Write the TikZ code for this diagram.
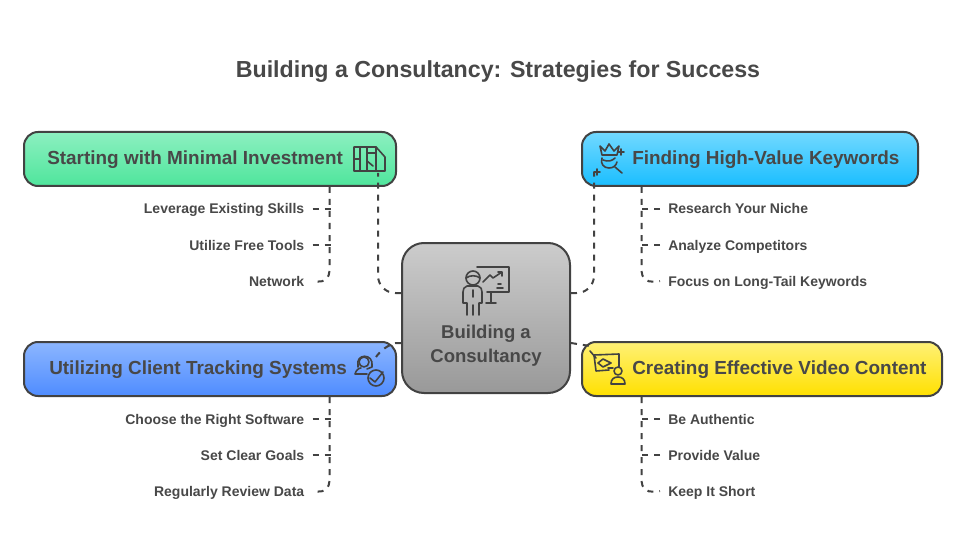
\documentclass[tikz,border=0pt]{standalone}
\usepackage{fontspec}
\setmainfont{Liberation Sans}
\usetikzlibrary{calc}
\definecolor{ink}{HTML}{424242}
\definecolor{txt}{HTML}{484848}
\definecolor{gtop}{HTML}{8CF0C0}
\definecolor{gbot}{HTML}{4FE59C}
\definecolor{btop}{HTML}{72D9FF}
\definecolor{bbot}{HTML}{1ABEFF}
\definecolor{ptop}{HTML}{8CB6FF}
\definecolor{pbot}{HTML}{4F8CFF}
\definecolor{ytop}{HTML}{FFF176}
\definecolor{ybot}{HTML}{FFE000}
\tikzset{
  box/.style={draw=ink,line width=1.5pt,rounded corners=10.5pt,minimum height=40.5pt,inner sep=0pt},
  conn/.style={draw=ink,line width=1.5pt,dash pattern=on 4.5pt off 4.5pt},
  icon/.style={draw=ink,line width=1.2pt,line cap=round,line join=round},
  titletxt/.style={inner sep=0pt,text=txt,text height=16pt,text depth=3.5pt,font=\fontsize{17.4}{22}\selectfont\bfseries},
  boxtxt/.style={inner sep=0pt,text=txt,anchor=west,text height=13pt,text depth=2.8pt,font=\fontsize{14.2}{18}\selectfont\bfseries},
  itemL/.style={inner sep=0pt,text=txt,anchor=east,text height=9.6pt,text depth=2.1pt,font=\fontsize{10.5}{13}\selectfont\bfseries},
  itemR/.style={inner sep=0pt,text=txt,anchor=west,text height=9.6pt,text depth=2.1pt,font=\fontsize{10.5}{13}\selectfont\bfseries},
}
\begin{document}
\begin{tikzpicture}[x=0.75pt,y=-0.75pt]
\useasboundingbox[fill=white] (0,0) rectangle (966,552);
\node[titletxt] (title) at (498,69) {Building a Consultancy: Strategies for Success};

% boxes
\node[box,minimum width=279pt,top color=gtop,bottom color=gbot] (green) at (210,159) {};
\node[box,minimum width=252pt,top color=btop,bottom color=bbot] (blue) at (750,159) {};
\node[box,minimum width=279pt,top color=ptop,bottom color=pbot] (peri) at (210,369) {};
\node[box,minimum width=270pt,top color=ytop,bottom color=ybot] (yel) at (762,369) {};
\node[box,minimum width=126pt,minimum height=112.5pt,rounded corners=16.5pt,top color=black!20,bottom color=black!40] (center) at (486,318) {};

% box labels
\node[boxtxt] (lg) at (47,158) {Starting with Minimal Investment};
\node[boxtxt] (lb) at (632,158) {Finding High-Value Keywords};
\node[boxtxt] (lp) at (49,368) {Utilizing Client Tracking Systems};
\node[boxtxt] (ly) at (632,368) {Creating Effective Video Content};
\node[inner sep=0pt,text=txt,font=\fontsize{13.9}{18}\selectfont\bfseries,align=center] (lc) at (486,346) {Building a\\Consultancy};

% items
\node[itemL] (g1) at (304.5,209) {Leverage Existing Skills};
\node[itemL] (g2) at (304.5,245) {Utilize Free Tools};
\node[itemL] (g3) at (304.5,281) {Network};
\node[itemR] (b1) at (668,209) {Research Your Niche};
\node[itemR] (b2) at (668,245) {Analyze Competitors};
\node[itemR] (b3) at (668,281) {Focus on Long-Tail Keywords};
\node[itemL] (p1) at (304.5,419) {Choose the Right Software};
\node[itemL] (p2) at (304.5,455) {Set Clear Goals};
\node[itemL] (p3) at (304.5,491) {Regularly Review Data};
\node[itemR] (y1) at (668,419) {Be Authentic};
\node[itemR] (y2) at (668,455) {Provide Value};
\node[itemR] (y3) at (668,491) {Keep It Short};

% branch trunks
\draw[conn,rounded corners=9pt] ($(green.south west)+(306.5,0)$) -- ($(green.south west)+(306.5,96)$) -- ([xshift=6pt]g3.east);
\draw[conn] ([xshift=6pt]g1.east) -- +(18,0);
\draw[conn] ([xshift=6pt]g2.east) -- +(18,0);
\draw[conn,rounded corners=9pt] ($(peri.south west)+(306.5,0)$) -- ($(peri.south west)+(306.5,96)$) -- ([xshift=6pt]p3.east);
\draw[conn] ([xshift=6pt]p1.east) -- +(18,0);
\draw[conn] ([xshift=6pt]p2.east) -- +(18,0);
\draw[conn,rounded corners=9pt] ($(blue.south west)+(60.5,0)$) -- ($(blue.south west)+(60.5,96)$) -- ([xshift=-6pt]b3.west);
\draw[conn] ([xshift=-6pt]b1.west) -- +(-20,0);
\draw[conn] ([xshift=-6pt]b2.west) -- +(-20,0);
\draw[conn,rounded corners=9pt] ($(yel.south west)+(60.5,0)$) -- ($(yel.south west)+(60.5,96)$) -- ([xshift=-6pt]y3.west);
\draw[conn] ([xshift=-6pt]y1.west) -- +(-20,0);
\draw[conn] ([xshift=-6pt]y2.west) -- +(-20,0);

% centre connectors
\coordinate (eg) at (378,173);
\coordinate (eb) at (594,172);
\coordinate (ep) at (376,357);
\coordinate (ey) at (590,346);
\draw[conn,rounded corners=13pt] ($(center.west)+(0,-25)$) -- (378,293) -- (eg);
\draw[conn,rounded corners=13pt] ($(center.east)+(0,-25)$) -- (594,293) -- (eb);
\draw[conn] ($(center.west)+(0,25)$) -- (396,343) .. controls (388,345) and (381,350) .. (ep);
\draw[conn] ($(center.east)+(0,25)$) -- (ey);

% icon: green map
\draw[icon] (354,147) -- (376,147) -- (385,157) -- (385,171) -- (354,171) -- cycle;
\draw[icon] (360,147) -- (360,171) (367,147) -- (367,171) (376,147) -- (376,171);
\draw[icon] (354,159) -- (360,159) (367,161) -- (373,166) (367,153) -- (376,153);
% icon: blue crown
\draw[icon] (600,146) -- (602,155) -- (617,155) -- (619,146) -- (614,151) -- (609,144) -- (605,151) -- cycle;
\draw[icon] (602,158) .. controls (600,164) and (604,168) .. (609,168) .. controls (613,168) and (616,166) .. (617,162);
\draw[icon] (603,160) .. controls (608,162) and (612,161) .. (615,158);
\draw[icon] (615,167) -- (622,173);
\draw[icon] (621,149) -- (621,155) (618,152) -- (624,152);
\draw[icon] (594,172) -- (600,172) (597,169) -- (597,175);
% icon: periwinkle headset + check
\draw[icon] (358,366) .. controls (355,353) and (374,353) .. (372,366);
\draw[icon] (364,362) circle[radius=5];
\draw[icon] (358,364) -- (358,367) (372,364) -- (372,367) (372,367) -- (367,369);
\draw[icon] (355,374) -- (367,374) (355,374) .. controls (356,370) and (359,368) .. (361,368);
\draw[icon] (376,378) circle[radius=8];
\draw[icon] (370,378) -- (375,382) -- (383,372);
% icon: yellow screen + person
\draw[icon] (594,355) -- (619,354) -- (619,367) (609,370) -- (596,371) -- (594,355);
\draw[icon] (590,351) -- (596,358);
\draw[icon] (598,363) -- (603,359) -- (611,363) -- (603,367) -- cycle;
\draw[icon] (608,368) -- (613,368);
\draw[icon] (618,371) circle[radius=4];
\draw[icon] (611,384) .. controls (611,379) and (614,377) .. (618,377) .. controls (622,377) and (625,379) .. (625,384) -- cycle;
% icon: centre presenter
\draw[icon] (473,278) circle[radius=7];
\draw[icon] (466,278) .. controls (470,275) and (476,275) .. (480,278);
\draw[icon] (467,286) -- (478,286) .. controls (481,287) and (482,289) .. (482,292) -- (482,303) -- (479,303) -- (479,315) (467,286) .. controls (464,287) and (463,289) .. (463,292) -- (463,303) -- (467,303) -- (467,315);
\draw[icon] (473,290) -- (473,297) (473,305) -- (473,315);
\draw[icon] (477,267) -- (509,267) -- (509,292) -- (487,292);
\draw[icon] (491,292) -- (491,303) (486,303) -- (496,303);
\draw[icon] (483,282) -- (490,275) -- (493,278) -- (502,272) (498,272) -- (502,272) -- (502,276);
\draw[icon] (498,284) -- (501,284) (497,288) -- (503,288);
\end{tikzpicture}
\end{document}
